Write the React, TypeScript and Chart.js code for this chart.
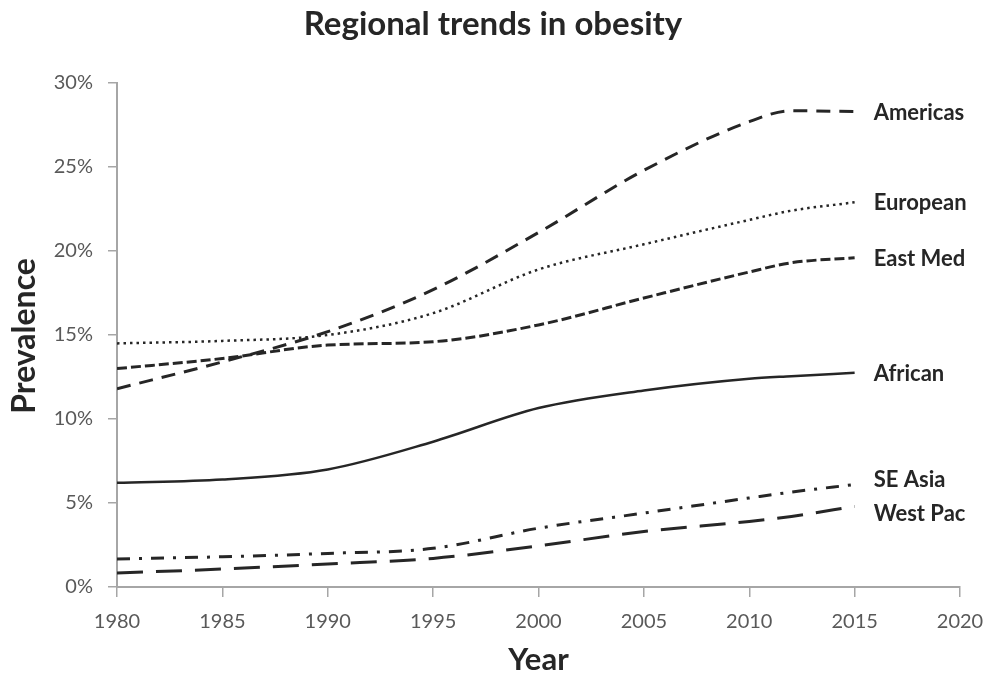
import React, { useEffect, useRef } from "react";
import { Chart, registerables } from "chart.js";

Chart.register(...registerables);

const years = [1980, 1985, 1990, 1995, 2000, 2005, 2010, 2012, 2015];
const americas = [11.8, 13.4, 15.2, 17.7, 21.1, 24.8, 27.7, 28.35, 28.3];
const european = [14.5, 14.65, 15.0, 16.3, 18.9, 20.4, 21.85, 22.4, 22.9];
const eastMed = [13.0, 13.6, 14.4, 14.6, 15.6, 17.2, 18.75, 19.3, 19.6];
const african = [6.2, 6.4, 7.0, 8.65, 10.65, 11.7, 12.4, 12.55, 12.75];
const seAsia = [1.67, 1.8, 2.0, 2.3, 3.5, 4.4, 5.3, 5.65, 6.1];
const westPac = [0.83, 1.07, 1.37, 1.7, 2.45, 3.3, 3.9, 4.2, 4.8];
const seriesNames = ["Americas", "European", "East Med", "African", "SE Asia", "West Pac"];
const xMin = 1980;
const xMax = 2020;
const xStep = 5;
const yMin = 0;
const yMax = 30;
const yStep = 5;
const chartTitle = "Regional trends in obesity";
const xTitle = "Year";
const yTitle = "Prevalence";

const FONT = "Lato, 'Open Sans', sans-serif";
const LINE = "#262626";
const AXIS = "#a6a6a6";

const styles = [
  { dash: [14, 9], width: 3 },
  { dash: [2.5, 4], width: 2.5 },
  { dash: [10, 4], width: 3 },
  { dash: [], width: 2.5 },
  { dash: [13, 9, 3, 9], width: 3 },
  { dash: [26, 13], width: 3 },
];

export default function App() {
  const ref = useRef<HTMLCanvasElement | null>(null);

  useEffect(() => {
    if (!ref.current) return;
    const allSeries = [americas, european, eastMed, african, seAsia, westPac];

    const textPlugin = {
      id: "texts",
      afterDraw(chart: any) {
        const ctx = chart.ctx;
        const area = chart.chartArea;
        const xs = chart.scales.x;
        const ys = chart.scales.y;
        ctx.save();
        ctx.fillStyle = LINE;
        ctx.textAlign = "center";
        ctx.textBaseline = "alphabetic";
        ctx.font = `bold 33px ${FONT}`;
        ctx.fillText(chartTitle, 493, 35);
        ctx.font = `bold 31px ${FONT}`;
        ctx.fillText(xTitle, (area.left + area.right) / 2, 670);
        ctx.save();
        ctx.translate(25, 336);
        ctx.rotate(-Math.PI / 2);
        ctx.textBaseline = "middle";
        ctx.font = `bold 32px ${FONT}`;
        ctx.fillText(yTitle, 0, 0);
        ctx.restore();

        // end labels
        const lastX = xs.getPixelForValue(years[years.length - 1]);
        const items = allSeries.map((s, i) => ({
          name: seriesNames[i],
          y: ys.getPixelForValue(s[s.length - 1]),
        }));
        items.sort((a, b) => a.y - b.y);
        const minGap = 34;
        for (let k = 0; k < 3; k++) {
          for (let i = 1; i < items.length; i++) {
            const gap = items[i].y - items[i - 1].y;
            if (gap < minGap) {
              const mid = (items[i].y + items[i - 1].y) / 2;
              items[i - 1].y = mid - minGap / 2;
              items[i].y = mid + minGap / 2;
            }
          }
        }
        ctx.textAlign = "left";
        ctx.textBaseline = "middle";
        ctx.font = `bold 22px ${FONT}`;
        items.forEach((it) => {
          ctx.fillText(it.name, lastX + 19, it.y + 1);
        });
        ctx.restore();
      },
    };

    const chart = new Chart(ref.current, {
      type: "line",
      data: {
        datasets: allSeries.map((s, i) => ({
          label: seriesNames[i],
          data: years.map((yr, j) => ({ x: yr, y: s[j] })),
          borderColor: LINE,
          borderWidth: styles[i].width,
          borderDash: styles[i].dash,
          borderCapStyle: "butt",
          pointRadius: 0,
          fill: false,
          cubicInterpolationMode: "monotone",
        })),
      },
      options: {
        animation: false,
        responsive: false,
        maintainAspectRatio: false,
        layout: { padding: { left: 0, top: 83, right: 29, bottom: 0 } },
        plugins: {
          legend: { display: false },
          title: { display: false },
          tooltip: { enabled: false },
        },
        scales: {
          x: {
            type: "linear",
            min: xMin,
            max: xMax,
            afterFit: (scale: any) => {
              scale.height = 88;
              scale.paddingLeft = 0;
              scale.paddingRight = 0;
            },
            ticks: {
              stepSize: xStep,
              color: "#595959",
              font: { family: FONT, size: 20 },
              padding: 13,
              maxRotation: 0,
              callback: (v: any) => String(v),
            },
            grid: {
              display: true,
              drawOnChartArea: false,
              drawTicks: true,
              tickLength: 10,
              color: AXIS,
              lineWidth: 1.5,
            },
            border: { display: true, color: AXIS, width: 2 },
          },
          y: {
            type: "linear",
            min: yMin,
            max: yMax,
            afterFit: (scale: any) => {
              scale.width = 117;
              scale.paddingTop = 0;
              scale.paddingBottom = 0;
            },
            ticks: {
              stepSize: yStep,
              color: "#595959",
              font: { family: FONT, size: 20 },
              padding: 15,
              callback: (v: any) => `${v}%`,
            },
            grid: {
              display: true,
              drawOnChartArea: false,
              drawTicks: true,
              tickLength: 9,
              color: AXIS,
              lineWidth: 1.5,
            },
            border: { display: true, color: AXIS, width: 2 },
          },
        },
      },
      plugins: [textPlugin],
    } as any);
    return () => chart.destroy();
  }, []);

  return (
    <div style={{ position: "absolute", left: 0, top: 0, width: 989, height: 675, background: "#fff" }}>
      <canvas ref={ref} width={989} height={675} style={{ width: 989, height: 675 }} />
    </div>
  );
}
